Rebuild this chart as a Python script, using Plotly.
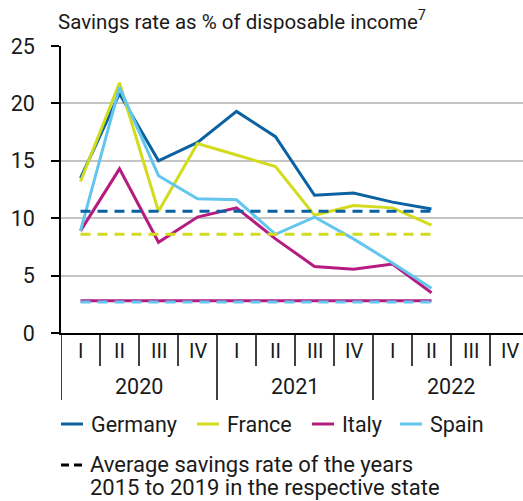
import plotly.graph_objects as go

# ---- data ----
quarters = ["I", "II", "III", "IV"] * 3
years = ["2020", "2021", "2022"]
categories = [f"{years[i // 4]} {quarters[i]}" for i in range(12)]

germany = [13.5, 20.85, 15.0, 16.6, 19.3, 17.1, 12.0, 12.2, 11.4, 10.8]
france = [13.2, 21.8, 10.6, 16.5, 15.5, 14.5, 10.25, 11.1, 10.9, 9.4]
italy = [8.9, 14.3, 7.9, 10.1, 10.9, 8.2, 5.8, 5.55, 6.0, 3.5]
spain = [8.9, 21.4, 13.7, 11.7, 11.6, 8.6, 10.1, 8.2, 6.1, 3.9]

avg_germany = 10.6
avg_france = 8.6
avg_italy = 2.8
avg_spain = 2.7

names = ["Germany", "France", "Italy", "Spain"]
colors = ["#0b62a3", "#d2dc1c", "#b61b80", "#62c6ef"]
y_ticks = [0, 5, 10, 15, 20, 25]

title_text = "Savings rate as % of disposable income<sup>7</sup>"
avg_lines = ["Average savings rate of the years", "2015 to 2019 in the respective state"]

FONT = "Roboto, Arial, sans-serif"
TXT = "#1a1a1a"

W, H = 523, 501
ML, MT, MB = 61, 46, 168
PW = W - ML
PH = H - MT - MB


def xp(px):
    return (px - ML) / PW


def yp(px):
    return (MT + PH - px) / PH


fig = go.Figure()
series = [germany, france, italy, spain]
n = len(germany)
for name, vals, col in zip(names, series, colors):
    fig.add_trace(go.Scatter(x=categories[:n], y=vals, mode="lines", name=name,
                             line=dict(color=col, width=3), showlegend=False,
                             hoverinfo="skip"))

# averages (Italy drawn continuous under Spain's dashes)
fig.add_trace(go.Scatter(x=categories[:n], y=[avg_italy] * n, mode="lines",
                         line=dict(color=colors[2], width=3), showlegend=False))
for val, col in [(avg_spain, colors[3]), (avg_france, colors[1]), (avg_germany, colors[0])]:
    fig.add_trace(go.Scatter(x=categories[:n], y=[val] * n, mode="lines",
                             line=dict(color=col, width=3, dash="10px,7px"),
                             showlegend=False))

shapes = []
annotations = []
# quarter dividers and labels
for i in range(13):
    is_year = (i % 4 == 0)
    shapes.append(dict(type="line", xref="x", yref="paper", x0=i - 0.5, x1=i - 0.5,
                       y0=0, y1=yp(400) if is_year else yp(366),
                       line=dict(color="#000000", width=1.5)))
for i, q in enumerate(quarters):
    annotations.append(dict(x=i, y=yp(351), xref="x", yref="paper", text=q,
                            showarrow=False, xanchor="center", yanchor="middle",
                            font=dict(size=20, color=TXT, family=FONT)))
for j, yr in enumerate(years):
    annotations.append(dict(x=j * 4 + 1.5, y=yp(386), xref="x", yref="paper", text=yr,
                            showarrow=False, xanchor="center", yanchor="middle",
                            font=dict(size=21.5, color=TXT, family=FONT)))

# title
annotations.append(dict(x=xp(56), y=yp(20), xref="paper", yref="paper", text=title_text,
                        showarrow=False, xanchor="left", yanchor="middle",
                        font=dict(size=20.5, color=TXT, family=FONT)))

# legend (manual)
leg_sw = [61, 197, 312, 400]
for name, col, sx in zip(names, colors, leg_sw):
    shapes.append(dict(type="line", xref="paper", yref="paper", x0=xp(sx), x1=xp(sx + 22),
                       y0=yp(424), y1=yp(424), line=dict(color=col, width=3)))
    annotations.append(dict(x=xp(sx + 28), y=yp(424), xref="paper", yref="paper", text=name,
                            showarrow=False, xanchor="left", yanchor="middle",
                            font=dict(size=21.5, color=TXT, family=FONT)))
shapes.append(dict(type="line", xref="paper", yref="paper", x0=xp(61), x1=xp(83),
                   y0=yp(465), y1=yp(465),
                   line=dict(color="#000000", width=3, dash="8px,5px")))
for k, line_text in enumerate(avg_lines):
    annotations.append(dict(x=xp(88), y=yp(464 + 23 * k), xref="paper", yref="paper",
                            text=line_text, showarrow=False, xanchor="left",
                            yanchor="middle", align="left",
                            font=dict(size=22, color=TXT, family=FONT)))

fig.update_layout(
    width=W, height=H,
    margin=dict(l=ML, r=0, t=MT, b=MB, pad=0),
    paper_bgcolor="white", plot_bgcolor="white",
    font=dict(family=FONT, color=TXT),
    shapes=shapes, annotations=annotations,
    xaxis=dict(type="category", categoryarray=categories, range=[-0.5, 11.346],
               showticklabels=False, ticks="", showgrid=False, zeroline=False,
               showline=True, linecolor="#000000", linewidth=1.5),
    yaxis=dict(range=[0, 25], tickvals=y_ticks, ticks="outside", ticklen=8,
               tickcolor="#000000", tickwidth=1.5, ticklabelstandoff=12,
               showline=True, linecolor="#000000", linewidth=1.5,
               showgrid=True, gridcolor="#c4c4c4", gridwidth=1.5, zeroline=False,
               tickfont=dict(size=21.5, color=TXT, family=FONT)),
    showlegend=False,
)

fig.write_html("out.html", config={"displayModeBar": False},
               post_script="document.body.style.margin='0';document.body.style.overflow='hidden';")
